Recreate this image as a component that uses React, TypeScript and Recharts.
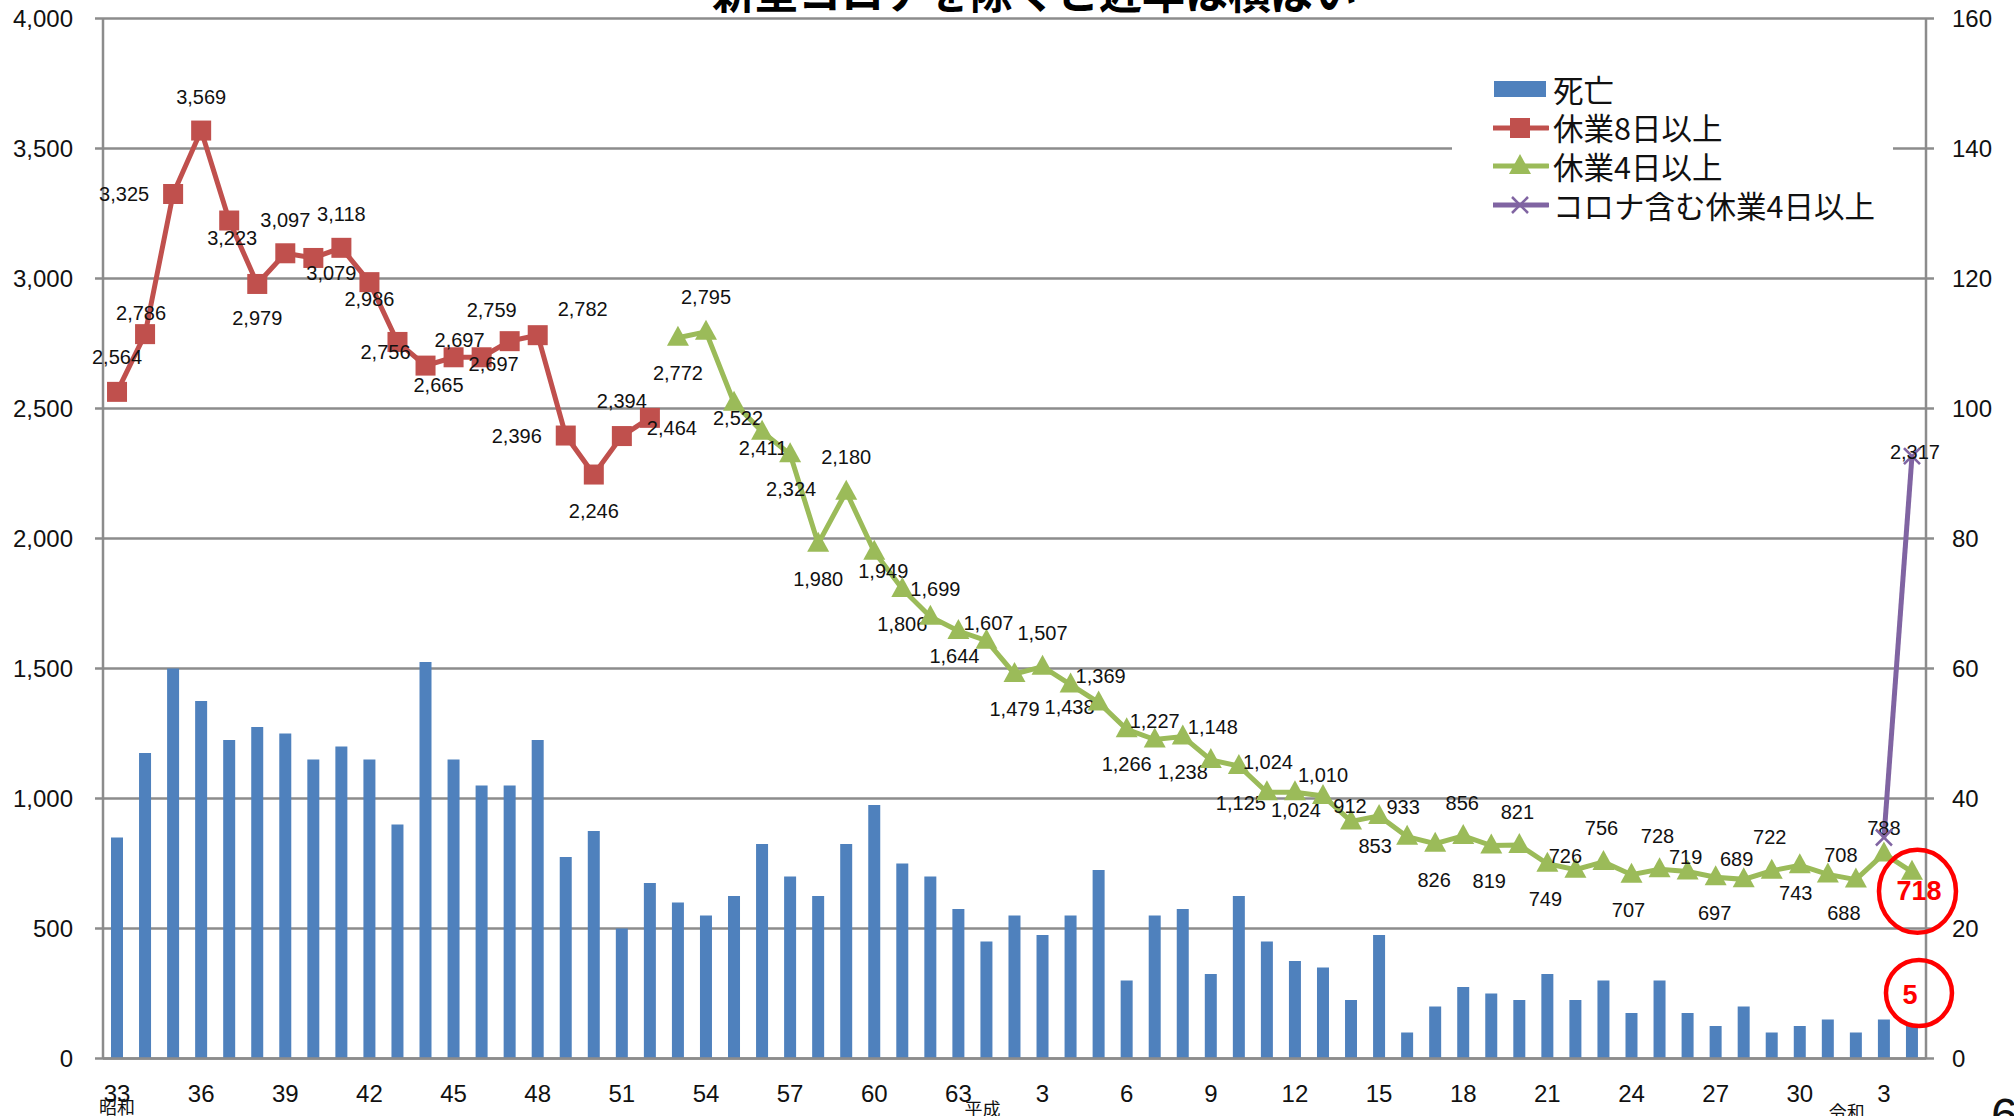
import React from 'react';
import { ComposedChart, Bar, Line, XAxis, YAxis, CartesianGrid, ReferenceDot } from 'recharts';

// 年（昭和33年〜令和4年）
const years = [
  'S33', 'S34', 'S35', 'S36', 'S37', 'S38', 'S39', 'S40', 'S41', 'S42',
  'S43', 'S44', 'S45', 'S46', 'S47', 'S48', 'S49', 'S50', 'S51', 'S52',
  'S53', 'S54', 'S55', 'S56', 'S57', 'S58', 'S59', 'S60', 'S61', 'S62',
  'S63', 'H1', 'H2', 'H3', 'H4', 'H5', 'H6', 'H7', 'H8', 'H9',
  'H10', 'H11', 'H12', 'H13', 'H14', 'H15', 'H16', 'H17', 'H18', 'H19',
  'H20', 'H21', 'H22', 'H23', 'H24', 'H25', 'H26', 'H27', 'H28', 'H29',
  'H30', 'R1', 'R2', 'R3', 'R4',
];

// 死亡（右軸）
const deaths = [
  34, 47, 60, 55, 49, 51, 50, 46, 48, 46,
  36, 61, 46, 42, 42, 49, 31, 35, 20, 27,
  24, 22, 25, 33, 28, 25, 33, 39, 30, 28,
  23, 18, 22, 19, 22, 29, 12, 22, 23, 13,
  25, 18, 15, 14, 9, 19, 4, 8, 11, 10,
  9, 13, 9, 12, 7, 12, 7, 5, 8, 4,
  5, 6, 4, 6, 5,
];

// 休業8日以上（S33〜S52）
const leave8Start = 'S33';
const leave8 = [
  2564, 2786, 3325, 3569, 3223, 2979, 3097, 3079, 3118, 2986,
  2756, 2665, 2697, 2697, 2759, 2782, 2396, 2246, 2394, 2464,
];

// 休業4日以上（S53〜R4）
const leave4Start = 'S53';
const leave4 = [
  2772, 2795, 2522, 2411, 2324, 1980, 2180, 1949, 1806, 1699,
  1644, 1607, 1479, 1507, 1438, 1369, 1266, 1227, 1238, 1148,
  1125, 1024, 1024, 1010, 912, 933, 853, 826, 856, 819,
  821, 749, 726, 756, 707, 728, 719, 697, 689, 722,
  743, 708, 688, 788, 718,
];

// コロナ含む休業4日以上（R3〜R4）
const covidStart = 'R3';
const covid = [850, 2317];

const leftTicks = [0, 500, 1000, 1500, 2000, 2500, 3000, 3500, 4000];
const rightTicks = [0, 20, 40, 60, 80, 100, 120, 140, 160];

const eraMarks = [
  { at: 'S33', name: '昭和', dx: 0, dy: 55 },
  { at: 'H1', name: '平成', dx: -4, dy: 57 },
  { at: 'R1', name: '令和', dx: 19, dy: 60 },
];

// label offsets (px from the marker)
const leave8Labels = [
  [0, -35], [-4, -21], [-49, 0], [0, -34], [3, 17], [0, 34], [0, -33], [18, 15], [0, -34], [0, 17],
  [-12, 10], [13, 19], [6, -17], [12, 7], [-18, -31], [45, -26], [-49, 0], [0, 36], [0, -35], [22, 10],
];
const leave4Labels = [
  [0, 35], [0, -35], [4, 15], [1, 16], [1, 35], [0, 35], [0, -35], [9, 19], [0, 35], [5, -28],
  [-4, 25], [2, -18], [0, 35], [0, -34], [-1, 22], [2, -27], [0, 35], [0, -18], [0, 35], [2, -33],
  [2, 37], [1, -30], [1, 18], [0, -21], [-1, -15], [24, -9], [-32, 9], [-1, 36], [-1, -33], [-2, 35],
  [-2, -33], [-2, 35], [-10, -14], [-2, -34], [-3, 35], [-2, -33], [-2, -15], [-1, 36], [-7, -20], [-2, -34],
  [-4, 28], [13, -19], [-12, 33], [0, -26], null,
];
const covidLabels = [null, [3, -4]];

const GRID = '#8c8c8c';
const RED = '#C0504D';
const GREEN = '#9BBB59';
const PURPLE = '#8064A2';
const BLUE = '#4F81BD';
const NUM_FONT = '"Liberation Sans", Arial, sans-serif';
const JP_FONT = '"Noto Sans CJK JP", "Noto Sans CJK SC", sans-serif';

function seriesAt(values: number[], start: string, i: number) {
  const k = i - years.indexOf(start);
  return k >= 0 && k < values.length ? values[k] : null;
}

const rows = years.map((year, i) => ({
  year,
  death: deaths[i],
  leave8: seriesAt(leave8, leave8Start, i),
  leave4: seriesAt(leave4, leave4Start, i),
  covid: seriesAt(covid, covidStart, i),
}));

const fmt = (v: number) => v.toLocaleString('en-US');

function marker(kind: string, cx: number, cy: number, color: string) {
  if (kind === 'square') {
    return <rect x={cx - 10} y={cy - 10} width={20} height={20} fill={color} />;
  }
  if (kind === 'triangle') {
    return <polygon points={`${cx},${cy - 12} ${cx + 11},${cy + 8} ${cx - 11},${cy + 8}`} fill={color} />;
  }
  return (
    <g stroke={color} strokeWidth={2.5}>
      <line x1={cx - 8} y1={cy - 8} x2={cx + 8} y2={cy + 8} />
      <line x1={cx - 8} y1={cy + 8} x2={cx + 8} y2={cy - 8} />
    </g>
  );
}

function makeDot(kind: string, color: string, offsets: any[], start: string) {
  return (p: any) => {
    const { cx, cy, index, value } = p;
    if (value == null || cx == null || cy == null) return <g key={`e-${index}`} />;
    const off = offsets[index - years.indexOf(start)];
    const v = Array.isArray(value) ? value[1] : value;
    return (
      <g key={`d-${index}`}>
        {marker(kind, cx, cy, color)}
        {off && (
          <text
            x={cx + off[0]}
            y={cy + off[1] + 7}
            textAnchor="middle"
            fontSize={20}
            fontFamily={NUM_FONT}
            fill="#111"
          >
            {fmt(v)}
          </text>
        )}
      </g>
    );
  };
}

const XTick = (p: any) => {
  const { x, y, payload } = p;
  const key = payload.value;
  const i = years.indexOf(key);
  const era = eraMarks.find(e => e.at === key);
  return (
    <g>
      {i % 3 === 0 && (
        <text x={x} y={y + 43} textAnchor="middle" fontSize={24} fontFamily={NUM_FONT} fill="#111">
          {key.slice(1)}
        </text>
      )}
      {era && (
        <text x={x + era.dx} y={y + era.dy} textAnchor="middle" fontSize={18} fontFamily={JP_FONT} fill="#111">
          {era.name}
        </text>
      )}
    </g>
  );
};

const lastLeave4 = leave4[leave4.length - 1];
const lastDeath = deaths[deaths.length - 1];

const Circle718 = (p: any) => (
  <g>
    <ellipse cx={p.cx + 5.5} cy={p.cy + 19.5} rx={38.5} ry={41.5} fill="none" stroke="#FF0000" strokeWidth={4.5} />
    <text x={p.cx + 7} y={p.cy + 28} textAnchor="middle" fontSize={27} fontWeight="bold" fontFamily={NUM_FONT} fill="#FF0000">
      {lastLeave4}
    </text>
  </g>
);

const Circle5 = (p: any) => (
  <g>
    <ellipse cx={p.cx + 7} cy={p.cy - 33} rx={33} ry={33} fill="none" stroke="#FF0000" strokeWidth={4.5} />
    <text x={p.cx - 2} y={p.cy - 22} textAnchor="middle" fontSize={27} fontWeight="bold" fontFamily={NUM_FONT} fill="#FF0000">
      {lastDeath}
    </text>
  </g>
);

const legendItems = [
  { label: '死亡', kind: 'bar', color: BLUE },
  { label: '休業8日以上', kind: 'square', color: RED },
  { label: '休業4日以上', kind: 'triangle', color: GREEN },
  { label: 'コロナ含む休業4日以上', kind: 'cross', color: PURPLE },
];

function LegendBox() {
  return (
    <div style={{ position: 'absolute', left: 1452, top: 63, width: 441, height: 165, background: '#fff' }}>
      {legendItems.map((it, i) => (
        <div
          key={it.label}
          style={{ position: 'absolute', left: 41, top: 8 + i * 38.7, height: 36, display: 'flex', alignItems: 'center' }}
        >
          <svg width={56} height={30}>
            {it.kind === 'bar' ? (
              <rect x={1} y={7} width={52} height={16} fill={it.color} />
            ) : (
              <g>
                <line x1={0} y1={15} x2={55} y2={15} stroke={it.color} strokeWidth={5} strokeLinecap="round" />
                {marker(it.kind, 27, 15, it.color)}
              </g>
            )}
          </svg>
          <span style={{ fontFamily: JP_FONT, fontSize: 30.5, color: '#111', marginLeft: 4, lineHeight: 1, whiteSpace: 'nowrap' }}>
            {it.label}
          </span>
        </div>
      ))}
    </div>
  );
}

export default function App() {
  const axisStroke = { stroke: GRID, strokeWidth: 2.5 };
  return (
    <div style={{ position: 'absolute', left: 0, top: 0, width: 2014, height: 1116, overflow: 'hidden', background: '#fff' }}>
      <div
        style={{
          position: 'absolute', left: 712, top: -31, fontSize: 43, fontWeight: 700,
          fontFamily: JP_FONT, whiteSpace: 'nowrap', lineHeight: 1, color: '#000',
        }}
      >
        新型コロナを除くと近年は横ばい
      </div>

      <ComposedChart width={2014} height={1116} data={rows} margin={{ top: 18.5, right: 0, bottom: 0, left: 0 }}>
        <CartesianGrid yAxisId="left" vertical={false} stroke={GRID} strokeWidth={2.5} />
        <XAxis
          dataKey="year"
          interval={0}
          height={57.5}
          tickLine={false}
          tickSize={0}
          tickMargin={0}
          axisLine={axisStroke}
          tick={<XTick />}
        />
        <YAxis
          yAxisId="left"
          domain={[0, 4000]}
          ticks={leftTicks}
          width={103}
          tickSize={8}
          tickMargin={22}
          tickLine={axisStroke}
          axisLine={axisStroke}
          tickFormatter={fmt}
          tick={{ fontSize: 24, fill: '#111', fontFamily: NUM_FONT }}
        />
        <YAxis
          yAxisId="right"
          orientation="right"
          domain={[0, 160]}
          ticks={rightTicks}
          width={88}
          tickSize={8}
          tickMargin={18}
          tickLine={axisStroke}
          axisLine={axisStroke}
          tick={{ fontSize: 24, fill: '#111', fontFamily: NUM_FONT }}
        />
        <Bar yAxisId="right" dataKey="death" fill={BLUE} barSize={12} isAnimationActive={false} />
        <Line
          yAxisId="left"
          dataKey="leave8"
          stroke={RED}
          strokeWidth={5}
          dot={makeDot('square', RED, leave8Labels, leave8Start)}
          activeDot={false}
          isAnimationActive={false}
        />
        <Line
          yAxisId="left"
          dataKey="leave4"
          stroke={GREEN}
          strokeWidth={5}
          dot={makeDot('triangle', GREEN, leave4Labels, leave4Start)}
          activeDot={false}
          isAnimationActive={false}
        />
        <Line
          yAxisId="left"
          dataKey="covid"
          stroke={PURPLE}
          strokeWidth={5}
          dot={makeDot('cross', PURPLE, covidLabels, covidStart)}
          activeDot={false}
          isAnimationActive={false}
        />
        <ReferenceDot yAxisId="left" x="R4" y={lastLeave4} shape={Circle718} />
        <ReferenceDot yAxisId="right" x="R4" y={lastDeath} shape={Circle5} />
      </ComposedChart>

      <LegendBox />

      <div style={{ position: 'absolute', left: 1991, top: 1088, fontSize: 48, fontFamily: NUM_FONT, color: '#111', lineHeight: 1.15 }}>
        6
      </div>
    </div>
  );
}
